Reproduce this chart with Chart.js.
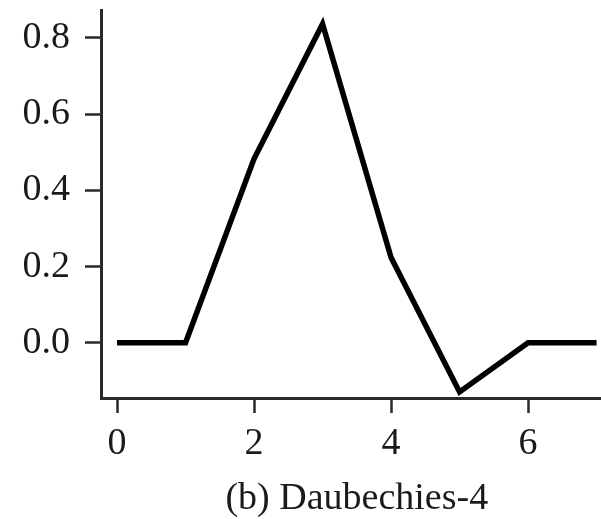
<!DOCTYPE html>
<html>
<head>
<meta charset="utf-8">
<script src="https://cdn.jsdelivr.net/npm/chart.js@4/dist/chart.umd.min.js"></script>
<style>
  html, body { margin: 0; padding: 0; background: #fff; }
  canvas { display: block; }
</style>
</head>
<body>
<canvas id="wavelet" width="601" height="519"></canvas>
<script>
// Daubechies-4 scaling coefficients
const xValues = [0, 1, 2, 3, 4, 5, 6, 7];
const yValues = [0, 0, 0.483, 0.837, 0.224, -0.129, 0, 0];
const xTicks = [0, 2, 4, 6];
const yTicks = [0.0, 0.2, 0.4, 0.6, 0.8];
const caption = "(b) Daubechies-4";

const serif = "'Liberation Serif', 'DejaVu Serif', serif";
const axisColor = "#2a2a2a";
const fontSize = 38;

// caption centred under the data range, like the original figure
const captionPlugin = {
  id: "caption",
  afterDraw(chart) {
    const x = chart.scales.x;
    const ctx = chart.ctx;
    const cx = (x.getPixelForValue(xValues[0]) + x.getPixelForValue(xValues[xValues.length - 1])) / 2;
    ctx.save();
    ctx.font = fontSize + "px " + serif;
    ctx.fillStyle = "#1a1a1a";
    ctx.textAlign = "center";
    ctx.textBaseline = "middle";
    ctx.fillText(caption, cx, 499);
    ctx.restore();
  },
};

const ctx = document.getElementById("wavelet").getContext("2d");
new Chart(ctx, {
  type: "line",
  data: {
    datasets: [
      {
        data: xValues.map((x, i) => ({ x: x, y: yValues[i] })),
        borderColor: "#000",
        borderWidth: 5.5,
        borderJoinStyle: "miter",
        pointRadius: 0,
        tension: 0,
        fill: false,
      },
    ],
  },
  options: {
    responsive: false,
    animation: false,
    devicePixelRatio: 1,
    layout: { padding: { top: 10, right: 1, bottom: 0, left: 0 } },
    plugins: {
      legend: { display: false },
      tooltip: { enabled: false },
    },
    scales: {
      x: {
        type: "linear",
        min: -0.234,
        max: 7.05,
        afterFit: (scale) => {
          scale.height = 121;
          scale.paddingLeft = 0;
          scale.paddingRight = 0;
        },
        afterBuildTicks: (scale) => { scale.ticks = xTicks.map((v) => ({ value: v })); },
        grid: {
          display: true,
          drawOnChartArea: false,
          drawTicks: true,
          tickLength: 15,
          tickWidth: 2.5,
          tickColor: axisColor,
        },
        border: { display: true, width: 3, color: axisColor },
        ticks: {
          padding: 8,
          color: "#1a1a1a",
          font: { family: serif, size: fontSize },
          callback: (v) => String(v),
        },
      },
      y: {
        type: "linear",
        min: -0.145,
        max: 0.8735,
        afterFit: (scale) => {
          scale.width = 101;
          scale.paddingTop = 0;
          scale.paddingBottom = 0;
        },
        afterBuildTicks: (scale) => { scale.ticks = yTicks.map((v) => ({ value: v })); },
        grid: {
          display: true,
          drawOnChartArea: false,
          drawTicks: true,
          tickLength: 16,
          tickWidth: 2.5,
          tickColor: axisColor,
        },
        border: { display: true, width: 3, color: axisColor },
        ticks: {
          padding: 15,
          color: "#1a1a1a",
          font: { family: serif, size: fontSize },
          callback: (v) => Number(v).toFixed(1),
        },
      },
    },
  },
  plugins: [captionPlugin],
});
</script>
</body>
</html>
